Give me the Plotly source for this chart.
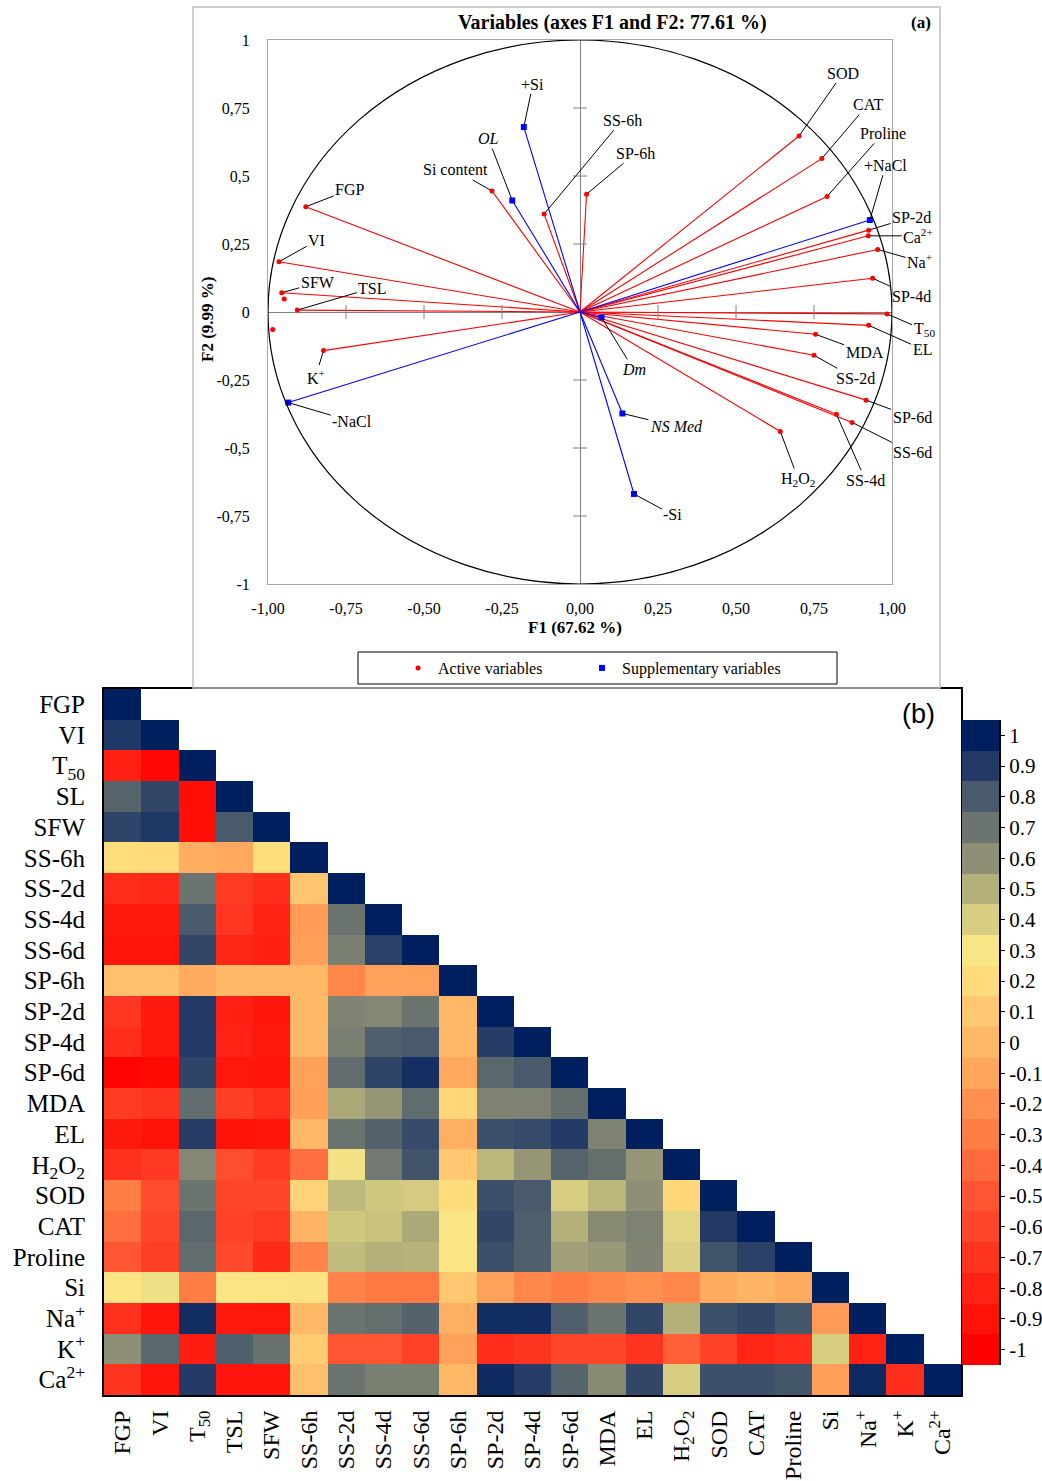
import plotly.graph_objects as go

# ---------------- Panel (a) data: PCA correlation circle ----------------
active_names = ["FGP", "VI", "SFW", "TSL", "K<sup>+</sup>", "Si content", "SS-6h", "SP-6h",
                "SOD", "CAT", "Proline", "SP-2d", "Ca<sup>2+</sup>", "Na<sup>+</sup>", "SP-4d",
                "T<sub>50</sub>", "EL", "MDA", "SS-2d", "SP-6d", "SS-6d", "SS-4d",
                "H<sub>2</sub>O<sub>2</sub>"]
active_f1 = [-0.879, -0.965, -0.956, -0.906, -0.822, -0.282, -0.115, 0.021,
             0.702, 0.775, 0.792, 0.925, 0.924, 0.954, 0.938,
             0.984, 0.925, 0.755, 0.750, 0.917, 0.872, 0.822, 0.642]
active_f2 = [0.387, 0.185, 0.071, 0.007, -0.142, 0.445, 0.360, 0.433,
             0.647, 0.564, 0.425, 0.301, 0.280, 0.230, 0.124,
             -0.007, -0.049, -0.082, -0.159, -0.324, -0.406, -0.376, -0.439]
extra_f1 = [-0.948, -0.985]
extra_f2 = [0.048, -0.064]

supp_names = ["+Si", "<i>OL</i>", "+NaCl", "<i>Dm</i>", "<i>NS Med</i>", "-Si", "-NaCl"]
supp_f1 = [-0.180, -0.217, 0.929, 0.069, 0.136, 0.173, -0.935]
supp_f2 = [0.680, 0.410, 0.338, -0.020, -0.373, -0.669, -0.333]

axis_ticks = [-1, -0.75, -0.5, -0.25, 0, 0.25, 0.5, 0.75, 1]
x_ticktext = ["-1,00", "-0,75", "-0,50", "-0,25", "0,00", "0,25", "0,50", "0,75", "1,00"]
y_ticktext = ["-1", "-0,75", "-0,5", "-0,25", "0", "0,25", "0,5", "0,75", "1"]

# label offsets in pixels (layout only)
active_offsets = [(44, -17), (38, -21), (36, -10), (75, -22), (-8, 26), (-37, -21), (78, -94),
                  (49, -41), (44, -63), (46, -54), (56, -63), (43, -13), (50, 0), (42, 12),
                  (39, 18), (37, 16), (54, 24), (49, 18), (41, 23), (46, 17), (60, 30),
                  (29, 66), (18, 48)]
supp_offsets = [(9, -43), (-24, -62), (16, -55), (32, 52), (54, 13), (39, 21), (64, 19)]

# ---------------- Panel (b) data: correlation matrix ----------------
row_labels = ["FGP", "VI", "T<sub>50</sub>", "SL", "SFW", "SS-6h", "SS-2d", "SS-4d", "SS-6d",
              "SP-6h", "SP-2d", "SP-4d", "SP-6d", "MDA", "EL", "H<sub>2</sub>O<sub>2</sub>",
              "SOD", "CAT", "Proline", "Si", "Na<sup>+</sup>", "K<sup>+</sup>", "Ca<sup>2+</sup>"]
col_labels = ["FGP", "VI", "T<sub>50</sub>", "TSL", "SFW", "SS-6h", "SS-2d", "SS-4d", "SS-6d",
              "SP-6h", "SP-2d", "SP-4d", "SP-6d", "MDA", "EL", "H<sub>2</sub>O<sub>2</sub>",
              "SOD", "CAT", "Proline", "Si", "Na<sup>+</sup>", "K<sup>+</sup>", "Ca<sup>2+</sup>"]

corr_lower = [
    [1],
    [0.91, 1],
    [-0.82, -0.96, 1],
    [0.76, 0.86, -0.92, 1],
    [0.87, 0.91, -0.92, 0.80, 1],
    [0.22, 0.20, -0.06, -0.08, 0.22, 1],
    [-0.75, -0.76, 0.70, -0.66, -0.74, 0.08, 1],
    [-0.86, -0.86, 0.80, -0.68, -0.80, -0.15, 0.70, 1],
    [-0.88, -0.88, 0.86, -0.78, -0.82, -0.13, 0.66, 0.88, 1],
    [0.05, 0.05, -0.07, 0.00, 0.00, 0.00, -0.25, -0.12, -0.12, 1],
    [-0.68, -0.85, 0.90, -0.82, -0.88, 0.00, 0.64, 0.63, 0.70, 0.00, 1],
    [-0.74, -0.86, 0.90, -0.80, -0.86, 0.00, 0.66, 0.78, 0.80, 0.00, 0.89, 1],
    [-0.98, -0.95, 0.87, -0.87, -0.88, -0.12, 0.73, 0.87, 0.94, -0.08, 0.75, 0.80, 1],
    [-0.66, -0.70, 0.73, -0.64, -0.72, -0.13, 0.52, 0.58, 0.73, 0.18, 0.65, 0.65, 0.72, 1],
    [-0.85, -0.90, 0.89, -0.90, -0.88, 0.00, 0.70, 0.77, 0.85, -0.05, 0.83, 0.85, 0.90, 0.65, 1],
    [-0.72, -0.67, 0.63, -0.55, -0.66, -0.38, 0.32, 0.68, 0.82, 0.10, 0.48, 0.58, 0.76, 0.72,
     0.58, 1],
    [-0.30, -0.56, 0.70, -0.60, -0.60, 0.16, 0.47, 0.42, 0.41, 0.21, 0.83, 0.80, 0.40, 0.48,
     0.60, 0.18, 1],
    [-0.38, -0.60, 0.75, -0.62, -0.66, -0.02, 0.42, 0.44, 0.52, 0.28, 0.86, 0.78, 0.50, 0.62,
     0.65, 0.37, 0.90, 1],
    [-0.50, -0.64, 0.73, -0.58, -0.76, -0.27, 0.46, 0.50, 0.49, 0.28, 0.83, 0.78, 0.55, 0.57,
     0.64, 0.39, 0.82, 0.88, 1],
    [0.28, 0.33, -0.30, 0.28, 0.28, 0.27, -0.28, -0.33, -0.33, 0.10, -0.12, -0.25, -0.30,
     -0.25, -0.20, -0.25, -0.07, -0.02, -0.07, 1],
    [-0.72, -0.88, 0.95, -0.86, -0.87, 0.00, 0.70, 0.72, 0.77, -0.05, 0.95, 0.95, 0.78, 0.70,
     0.86, 0.50, 0.83, 0.86, 0.81, -0.15, 1],
    [0.60, 0.75, -0.84, 0.78, 0.71, 0.12, -0.50, -0.50, -0.62, -0.12, -0.74, -0.70, -0.60,
     -0.60, -0.70, -0.45, -0.62, -0.78, -0.74, 0.40, -0.80, 1],
    [-0.70, -0.88, 0.90, -0.88, -0.88, 0.05, 0.70, 0.66, 0.66, 0.00, 0.96, 0.89, 0.76, 0.62,
     0.86, 0.40, 0.83, 0.83, 0.81, -0.13, 0.96, -0.74, 1],
]

cb_levels = [1.0, 0.9, 0.8, 0.7, 0.6, 0.5, 0.4, 0.3, 0.2, 0.1, 0.0,
             -0.1, -0.2, -0.3, -0.4, -0.5, -0.6, -0.7, -0.8, -0.9, -1.0]
cb_ticktext = ["1", "0.9", "0.8", "0.7", "0.6", "0.5", "0.4", "0.3", "0.2", "0.1", "0",
               "-0.1", "-0.2", "-0.3", "-0.4", "-0.5", "-0.6", "-0.7", "-0.8", "-0.9", "-1"]
cb_colors = ["#001F5E", "#233A66", "#485A6B", "#6B746E", "#8F8F76", "#B3B07A", "#D8CE82",
             "#F9E686", "#FFDB7B", "#FFC870", "#FFB866", "#FFA55C", "#FF9050", "#FF7E46",
             "#FF6A3C", "#FF5533", "#FF452A", "#FF3420", "#FF2215", "#FF120A", "#FF0000"]

# ---------------- build figure ----------------
W, H = 1042, 1481
SERIF = "Liberation Serif"


def px_x(p):
    return p / W


def px_y(p):
    return 1 - p / H


fig = go.Figure()

# lines from origin
lx, ly = [], []
for a, b in zip(active_f1, active_f2):
    lx += [0, a, None]
    ly += [0, b, None]
fig.add_trace(go.Scatter(x=lx, y=ly, mode="lines", line=dict(color="#FF0000", width=1.1),
                         showlegend=False, hoverinfo="skip", xaxis="x", yaxis="y"))
sx, sy = [], []
for a, b in zip(supp_f1, supp_f2):
    sx += [0, a, None]
    sy += [0, b, None]
fig.add_trace(go.Scatter(x=sx, y=sy, mode="lines", line=dict(color="#0000FF", width=1.1),
                         showlegend=False, hoverinfo="skip", xaxis="x", yaxis="y"))

# tick crosses on zero axes
inner_ticks = [t for t in axis_ticks if t not in (-1, 0, 1)]
fig.add_trace(go.Scatter(x=inner_ticks, y=[0] * len(inner_ticks), mode="markers",
                         marker=dict(symbol="line-ns-open", size=10, color="#808080",
                                     line=dict(color="#808080", width=1)),
                         showlegend=False, hoverinfo="skip", xaxis="x", yaxis="y"))
fig.add_trace(go.Scatter(x=[0] * len(inner_ticks), y=inner_ticks, mode="markers",
                         marker=dict(symbol="line-ew-open", size=10, color="#808080",
                                     line=dict(color="#808080", width=1)),
                         showlegend=False, hoverinfo="skip", xaxis="x", yaxis="y"))

# markers
fig.add_trace(go.Scatter(x=active_f1 + extra_f1, y=active_f2 + extra_f2, mode="markers",
                         marker=dict(color="#FF0000", size=5, symbol="circle"),
                         name="Active variables", xaxis="x", yaxis="y", legend="legend"))
fig.add_trace(go.Scatter(x=supp_f1, y=supp_f2, mode="markers",
                         marker=dict(color="#0000FF", size=6, symbol="square"),
                         name="Supplementary variables", xaxis="x", yaxis="y",
                         legend="legend2"))

annotations = []
for name, a, b, (dx, dy) in zip(active_names + supp_names, active_f1 + supp_f1,
                                active_f2 + supp_f2, active_offsets + supp_offsets):
    annotations.append(dict(x=a, y=b, xref="x", yref="y", text=name, showarrow=True,
                            ax=dx, ay=dy, arrowhead=0, arrowwidth=1, arrowcolor="black",
                            standoff=2, font=dict(family=SERIF, size=16, color="black")))


def paper_text(px, py, text, size, family=SERIF, angle=0):
    return dict(x=px_x(px), y=px_y(py), xref="paper", yref="paper", showarrow=False,
                xanchor="center", yanchor="middle", text=text, textangle=angle,
                font=dict(family=family, size=size, color="black"))


annotations += [
    paper_text(612, 22, "<b>Variables (axes F1 and F2: 77.61 %)</b>", 20),
    paper_text(921, 23, "<b>(a)</b>", 17),
    paper_text(575, 628, "<b>F1 (67.62 %)</b>", 17),
    paper_text(207, 320, "<b>F2 (9.99 %)</b>", 17, angle=-90),
    paper_text(918, 714, "(b)", 27, family="Liberation Sans"),
]

# ---------------- heatmap ----------------
n = len(row_labels)
z = []
for i in range(n):
    row = list(corr_lower[i]) + [None] * (n - len(corr_lower[i]))
    z.append(row)

colorscale = [[(1 - i / 20), c] for i, c in enumerate(cb_colors)]
colorscale = sorted(colorscale, key=lambda t: t[0])

fig.add_trace(go.Heatmap(z=z, x=list(range(n)), y=list(range(n)), colorscale=colorscale,
                         zmin=-1, zmax=1, showscale=False, xaxis="x2", yaxis="y2",
                         hoverongaps=False))

fig.add_trace(go.Heatmap(z=[[v] for v in cb_levels], x=[0], y=cb_levels,
                         colorscale=colorscale, zmin=-1, zmax=1, showscale=False,
                         xaxis="x3", yaxis="y3"))

shapes = [
    dict(type="circle", xref="x", yref="y", x0=-1, y0=-1, x1=1, y1=1,
         line=dict(color="black", width=1.2)),
    dict(type="rect", xref="paper", yref="paper", x0=px_x(193), x1=px_x(940),
         y0=px_y(688), y1=px_y(7), line=dict(color="#BFBFBF", width=1.5)),
    dict(type="rect", xref="paper", yref="paper", x0=px_x(358), x1=px_x(837),
         y0=px_y(684), y1=px_y(652), line=dict(color="black", width=1)),
]

legend_common = dict(orientation="h", yanchor="middle", y=px_y(668), xanchor="left",
                     font=dict(family=SERIF, size=16, color="black"),
                     bgcolor="rgba(0,0,0,0)", itemwidth=30)

tickfont_a = dict(family=SERIF, size=16, color="black")
fig.update_layout(
    width=W, height=H, margin=dict(l=0, r=0, t=0, b=0, autoexpand=False),
    paper_bgcolor="white", plot_bgcolor="white",
    showlegend=True,
    legend=dict(x=px_x(398), **legend_common),
    legend2=dict(x=px_x(582), **legend_common),
    xaxis=dict(domain=[px_x(268), px_x(892)], range=[-1, 1], anchor="y",
               showline=True, mirror=True, linecolor="#A6A6A6", linewidth=1,
               showgrid=False, zeroline=True, zerolinecolor="#808080", zerolinewidth=1,
               tickvals=axis_ticks, ticktext=x_ticktext, ticks="", tickfont=tickfont_a,
               ticklabelstandoff=10, automargin=False),
    yaxis=dict(domain=[px_y(584), px_y(40)], range=[-1, 1], anchor="x",
               showline=True, mirror=True, linecolor="#A6A6A6", linewidth=1,
               showgrid=False, zeroline=True, zerolinecolor="#808080", zerolinewidth=1,
               tickvals=axis_ticks, ticktext=y_ticktext, ticks="", tickfont=tickfont_a,
               ticklabelstandoff=14, automargin=False),
    xaxis2=dict(domain=[px_x(104), px_x(961)], range=[-0.5, n - 0.5], anchor="y2",
                tickvals=list(range(n)), ticktext=col_labels, tickangle=-90,
                tickfont=dict(family=SERIF, size=24, color="black"), ticks="",
                showline=True, mirror=True, linecolor="black", linewidth=2,
                showgrid=False, zeroline=False, ticklabelstandoff=4, automargin=False),
    yaxis2=dict(domain=[px_y(1395), px_y(689)], range=[n - 0.5, -0.5], anchor="x2",
                tickvals=list(range(n)), ticktext=row_labels,
                tickfont=dict(family=SERIF, size=25, color="black"), ticks="",
                showline=True, mirror=True, linecolor="black", linewidth=2,
                showgrid=False, zeroline=False, ticklabelstandoff=12, automargin=False),
    xaxis3=dict(domain=[px_x(962), px_x(999)], range=[-0.5, 0.5], anchor="y3",
                visible=False, automargin=False),
    yaxis3=dict(domain=[px_y(1365), px_y(720)], range=[-1.05, 1.05], anchor="x3",
                side="right", tickvals=cb_levels, ticktext=cb_ticktext, ticks="outside",
                ticklen=4, tickcolor="black",
                tickfont=dict(family=SERIF, size=21, color="black"),
                showline=True, linecolor="black", linewidth=2, showgrid=False,
                zeroline=False, automargin=False, ticklabelstandoff=0),
    annotations=annotations,
    shapes=shapes,
)

fig.write_html("out.html", config={"displayModeBar": False},
               post_script="document.body.style.margin='0px';")
